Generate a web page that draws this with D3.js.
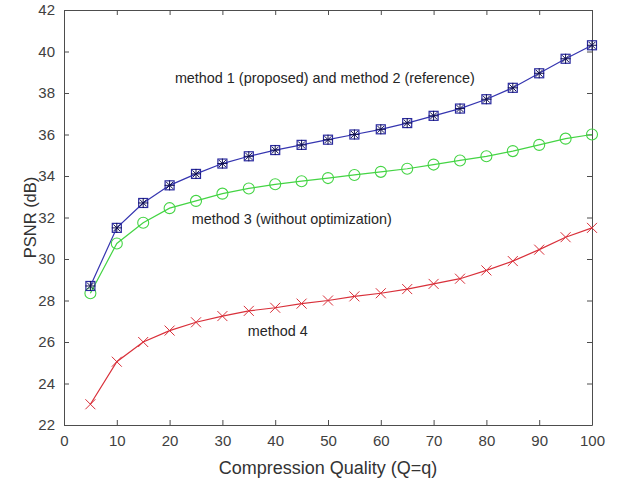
<!DOCTYPE html>
<html>
<head>
<meta charset="utf-8">
<script src="https://cdn.jsdelivr.net/npm/d3@7"></script>
<style>
  body { margin: 0; background: #fff; }
  text { font-family: "Liberation Sans", Arial, sans-serif; }
</style>
</head>
<body>
<svg width="618" height="485"></svg>
<script>
// quality levels
var quality = [5, 10, 15, 20, 25, 30, 35, 40, 45, 50, 55, 60, 65, 70, 75, 80, 85, 90, 95, 100];

// PSNR values
var method12 = [28.7, 31.5, 32.7, 33.55, 34.1, 34.6, 34.95, 35.25, 35.5, 35.75,
                36.0, 36.25, 36.55, 36.9, 37.25, 37.7, 38.25, 38.95, 39.65, 40.3];
var method3 = [28.35, 30.75, 31.75, 32.45, 32.8, 33.15, 33.4, 33.6, 33.75, 33.9,
               34.05, 34.2, 34.35, 34.55, 34.75, 34.95, 35.2, 35.5, 35.8, 36.0];
var method4 = [23.0, 25.05, 26.0, 26.55, 26.95, 27.25, 27.5, 27.65, 27.85, 28.0,
               28.2, 28.35, 28.55, 28.8, 29.05, 29.45, 29.9, 30.45, 31.05, 31.5];

var xTicks = [0, 10, 20, 30, 40, 50, 60, 70, 80, 90, 100];
var yTicks = [22, 24, 26, 28, 30, 32, 34, 36, 38, 40, 42];

var labelTexts = ["method 1 (proposed) and method 2 (reference)",
                  "method 3 (without optimization)",
                  "method 4"];
// where each label sits, in data units
var labelQ = [21, 24.2, 34.8];
var labelV = [38.48, 31.69, 26.29];

var svg = d3.select("svg"),
    margin = {top: 10, right: 26, bottom: 60, left: 64},
    width = +svg.attr("width") - margin.left - margin.right,
    height = +svg.attr("height") - margin.top - margin.bottom;

var g = svg.append("g")
    .attr("transform", "translate(" + margin.left + "," + margin.top + ")");

var x = d3.scaleLinear().domain([0, 100]).range([0, width]);
var y = d3.scaleLinear().domain([22, 42]).range([height, 0]);

var axisColor = "#4d4d4d";

// axes (matlab style, ticks inside, box)
function styleAxis(sel) {
  sel.select(".domain").attr("stroke", axisColor);
  sel.selectAll(".tick line").attr("stroke", axisColor);
  sel.selectAll(".tick text").attr("fill", "#404040").style("font-size", "15px");
}

g.append("g")
  .attr("transform", "translate(0," + height + ")")
  .call(d3.axisBottom(x).tickValues(xTicks).tickSizeInner(-5).tickSizeOuter(0).tickPadding(10))
  .call(styleAxis);
g.append("g")
  .call(d3.axisTop(x).tickValues(xTicks).tickSizeInner(-5).tickSizeOuter(0).tickFormat(""))
  .call(styleAxis);
g.append("g")
  .call(d3.axisLeft(y).tickValues(yTicks).tickSizeInner(-5).tickSizeOuter(0).tickPadding(9))
  .call(styleAxis);
g.append("g")
  .attr("transform", "translate(" + width + ",0)")
  .call(d3.axisRight(y).tickValues(yTicks).tickSizeInner(-5).tickSizeOuter(0).tickFormat(""))
  .call(styleAxis);

// axis titles
g.append("text")
  .attr("x", width / 2)
  .attr("y", height + 49)
  .attr("text-anchor", "middle")
  .attr("fill", "#333")
  .style("font-size", "18px")
  .text("Compression Quality (Q=q)");

g.append("text")
  .attr("transform", "rotate(-90)")
  .attr("x", -height / 2)
  .attr("y", -28)
  .attr("text-anchor", "middle")
  .attr("fill", "#333")
  .style("font-size", "16.5px")
  .text("PSNR (dB)");

var line = d3.line()
  .x(function(d) { return x(d.q); })
  .y(function(d) { return y(d.v); });

function pts(vals) {
  return quality.map(function(q, i) { return {q: q, v: vals[i]}; });
}

var series = [
  {values: pts(method4), color: "#d9303a"},
  {values: pts(method3), color: "#44d444"},
  {values: pts(method12), color: "#3535b0"}
];

series.forEach(function(s) {
  g.append("path")
    .attr("d", line(s.values))
    .attr("fill", "none")
    .attr("stroke", s.color)
    .attr("stroke-width", 1.2);
});

// method 4: x markers
g.selectAll(".m4").data(pts(method4)).enter().append("path")
  .attr("transform", function(d) { return "translate(" + x(d.q) + "," + y(d.v) + ")"; })
  .attr("d", "M-5,-5L5,5M-5,5L5,-5")
  .attr("stroke", "#d9303a")
  .attr("stroke-width", 1);

// method 3: circles
g.selectAll(".m3").data(pts(method3)).enter().append("circle")
  .attr("cx", function(d) { return x(d.q); })
  .attr("cy", function(d) { return y(d.v); })
  .attr("r", 5.5)
  .attr("fill", "none")
  .attr("stroke", "#44d444")
  .attr("stroke-width", 1.1);

// method 2: squares
g.selectAll(".m2").data(pts(method12)).enter().append("rect")
  .attr("x", function(d) { return x(d.q) - 4.5; })
  .attr("y", function(d) { return y(d.v) - 4.5; })
  .attr("width", 9)
  .attr("height", 9)
  .attr("fill", "none")
  .attr("stroke", "#2a2aa0")
  .attr("stroke-width", 1.2);

// method 1: asterisks
g.selectAll(".m1").data(pts(method12)).enter().append("path")
  .attr("transform", function(d) { return "translate(" + x(d.q) + "," + y(d.v) + ")"; })
  .attr("d", "M-5,0L5,0M0,-5L0,5M-3.5,-3.5L3.5,3.5M-3.5,3.5L3.5,-3.5")
  .attr("stroke", "#101050")
  .attr("stroke-width", 1);

// in-plot labels
g.selectAll(".lbl").data(labelTexts).enter().append("text")
  .attr("x", function(d, i) { return x(labelQ[i]); })
  .attr("y", function(d, i) { return y(labelV[i]); })
  .attr("fill", "#262626")
  .style("font-size", "14.4px")
  .text(function(d) { return d; });
</script>
</body>
</html>
